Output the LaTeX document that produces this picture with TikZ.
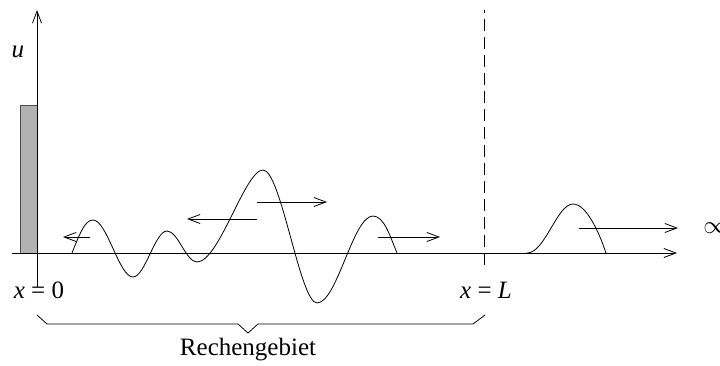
\documentclass[tikz,border=0pt]{standalone}
\usepackage{fontspec}
\setmainfont{Liberation Serif}
\usetikzlibrary{arrows.meta}
\tikzset{
  thin line/.style={line width=0.8pt},
  barb/.style={-{Straight Barb[length=12pt,width=9pt,line width=0.8pt]}},
  lbl/.style={font=\fontsize{25}{29}\selectfont, inner sep=0pt},
}
\begin{document}
\begin{tikzpicture}[x=1pt,y=1pt,thin line]
\useasboundingbox (0,0) rectangle (720,365);
% shaded bar
\draw[draw=black!70, fill=gray!60] (20,112) rectangle (37,260);
% axes
\coordinate (xs) at (12,112);
\coordinate (xe) at (677,112);
\coordinate (ys) at (37,78);
\coordinate (ye) at (37,355);
\draw[barb] (xs) -- (xe);
\draw[barb] (ys) -- (ye);
\node[lbl] (u) at (18,313) {\textit{u}};
% dashed boundary
\coordinate (ds) at (484,100);
\coordinate (de) at (484,355);
\draw[dash pattern=on 12pt off 6pt] (ds) -- (de);
% labels
\node[lbl] (x0) at (39,75) {\textit{x} = 0};
\node[lbl] (xL) at (486,75) {\textit{x} = \textit{L}};
% brace
\draw (37,50) -- (47,41) -- (238,41) -- (248,32) -- (258,41) -- (473,41) -- (485,50);
\node[lbl] (rg) at (248,15) {Rechengebiet};
% wave in domain
\draw (72,112) .. controls +(8,20) and +(-8,0) .. (93,145)
  .. controls +(14,0) and +(-14,0) .. (133,88)
  .. controls +(12,0) and +(-12,0) .. (167,134)
  .. controls +(11,0) and +(-11,0) .. (197,103)
  .. controls +(22,0) and +(-18,0) .. (263,195)
  .. controls +(18,0) and +(-17,0) .. (317,62)
  .. controls +(20,0) and +(-20,0) .. (373,149)
  .. controls +(11,0) and +(-7,17) .. (397,112);
% outgoing pulse
\draw (527,112) .. controls +(18,0) and +(-16,0) .. (573,161)
  .. controls +(14,0) and +(-6,18) .. (606,112);
% direction arrows
\coordinate (a1s) at (90,128);  \coordinate (a1e) at (63,128);
\coordinate (a2s) at (257,146); \coordinate (a2e) at (187,146);
\coordinate (a3s) at (257,163); \coordinate (a3e) at (327,163);
\coordinate (a4s) at (378,128); \coordinate (a4e) at (440,128);
\coordinate (a5s) at (579,137); \coordinate (a5e) at (678,137);
\draw[barb] (a1s) -- (a1e);
\draw[barb] (a2s) -- (a2e);
\draw[barb] (a3s) -- (a3e);
\draw[barb] (a4s) -- (a4e);
\draw[barb] (a5s) -- (a5e);
\node[lbl, anchor=west] (inf) at (703,137) {$\infty$};
\end{tikzpicture}
\end{document}
